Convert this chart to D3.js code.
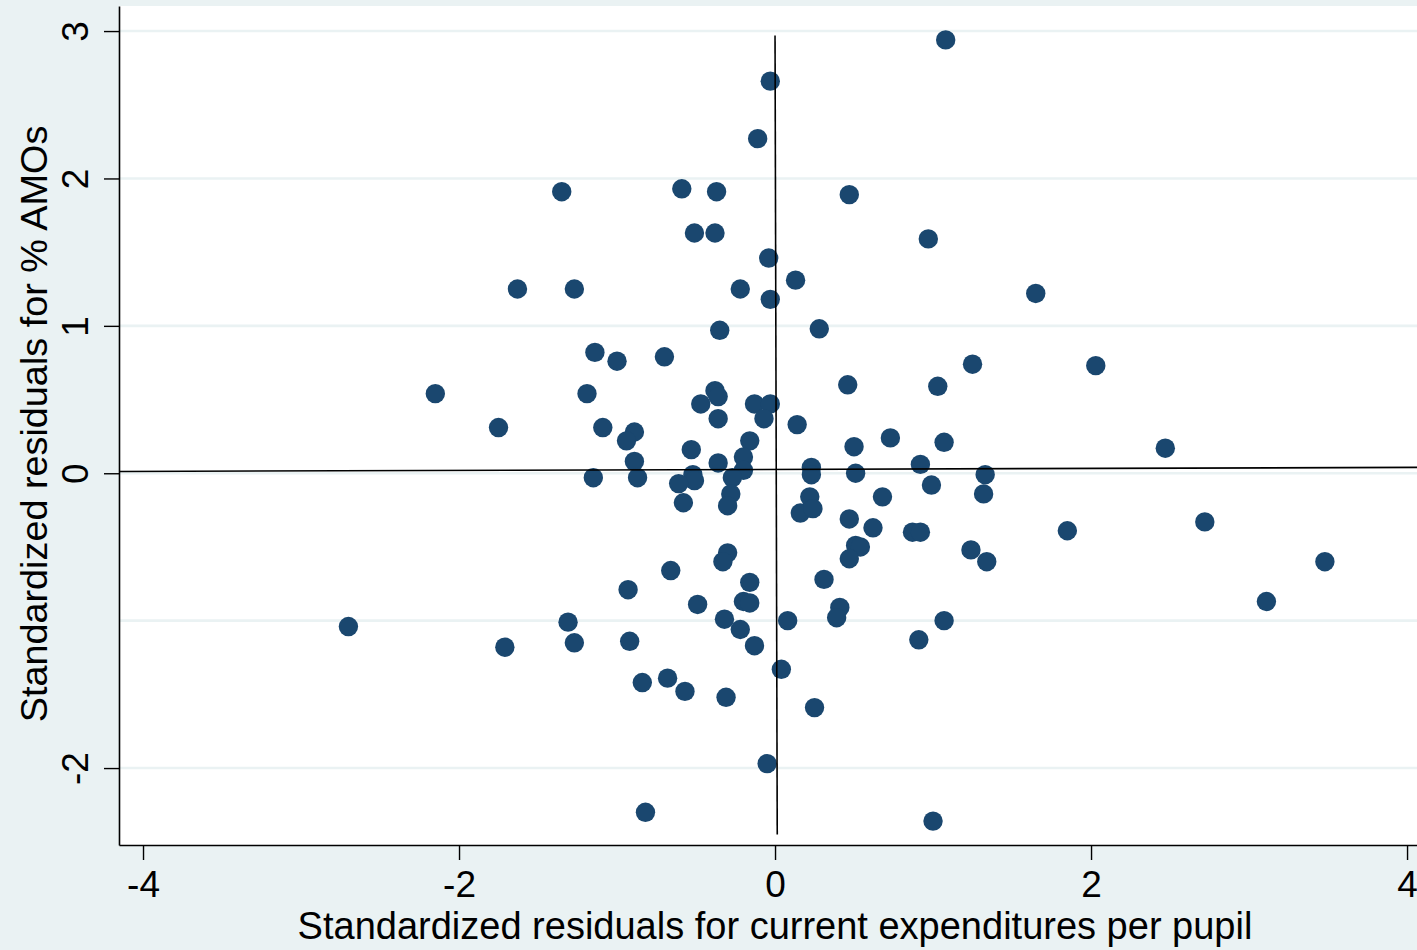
<!DOCTYPE html>
<html>
<head>
<meta charset="utf-8">
<script src="https://cdn.jsdelivr.net/npm/d3@7"></script>
<style>
  body { margin: 0; background: #eaf2f3; }
  text { font-family: "Liberation Sans", Arial, sans-serif; fill: #000; }
</style>
</head>
<body>
<script>
// 标准化残差（横轴：每生经常性支出；纵轴：% AMOs）
const xResid = [
  1.08, -0.03, -0.11, -1.35, -0.59, -0.37, 0.47, -0.51, -0.38, 0.97,
  -0.04, -1.63, -1.27, -0.22, 0.13, -0.03, 1.65, -0.35, 0.28, -1.14,
  -1.00, -0.70, 1.25, 2.03, -2.15, -1.19, 0.46, 1.03, -0.38, -0.36,
  -0.47, -0.13, -0.03, -0.36, -0.07, 0.14, -1.75, -1.09, -0.89, -0.94,
  -0.16, 0.73, 1.07, 0.50, -0.53, 2.47, -0.89, -0.36, -0.20, 0.92,
  0.23, -0.52, -0.51, -0.87, -1.15, -0.20, 0.23, 0.51, 1.33, -0.61,
  -0.27, 0.99, -0.28, 0.22, 0.68, 1.32, -0.58, -0.30, 0.16, 0.24,
  0.47, 2.72, 0.62, 0.87, 0.92, 1.85, 0.51, 0.54, 1.24, -0.30,
  0.47, -0.33, 1.34, 3.48, -0.66, 0.31, -0.16, -0.93, -0.49, -0.20,
  -0.16, 0.41, 3.11, 0.39, -0.32, 0.08, 1.07, -2.70, -1.31, -0.22,
  -0.92, -1.27, 0.91, -1.71, -0.13, 0.04, -0.68, -0.84, -0.57, -0.31,
  0.25, -0.05, -0.82, 1.00
];
const yResid = [
  2.94, 2.66, 2.27, 1.91, 1.93, 1.91, 1.89, 1.63, 1.63, 1.59,
  1.46, 1.25, 1.25, 1.25, 1.31, 1.18, 1.22, 0.97, 0.98, 0.82,
  0.76, 0.79, 0.74, 0.73, 0.54, 0.54, 0.60, 0.59, 0.56, 0.52,
  0.47, 0.47, 0.47, 0.37, 0.37, 0.33, 0.31, 0.31, 0.28, 0.22,
  0.22, 0.24, 0.21, 0.18, 0.16, 0.17, 0.08, 0.07, 0.11, 0.06,
  0.04, -0.01, -0.05, -0.03, -0.03, 0.02, -0.01, 0.00, -0.01, -0.07,
  -0.03, -0.08, -0.14, -0.16, -0.16, -0.14, -0.20, -0.22, -0.27, -0.24,
  -0.31, -0.33, -0.37, -0.40, -0.40, -0.39, -0.49, -0.50, -0.52, -0.54,
  -0.58, -0.60, -0.60, -0.60, -0.66, -0.72, -0.74, -0.79, -0.89, -0.87,
  -0.88, -0.91, -0.87, -0.98, -0.99, -1.00, -1.00, -1.04, -1.01, -1.06,
  -1.14, -1.15, -1.13, -1.18, -1.17, -1.33, -1.39, -1.42, -1.48, -1.52,
  -1.59, -1.97, -2.30, -2.36
];
// 刻度
const xTicks = [-4, -2, 0, 2, 4];
const yGrid = [-2, -1, 0, 1, 2, 3];
const yTicks = [-2, 0, 1, 2, 3];
// 参考线（两端点）
const hLine = [[-4.15, 0.012], [4.07, 0.04]];
const vLine = [[0.0, 2.97], [0.014, -2.45]];

const xTitle = 'Standardized residuals for current expenditures per pupil';
const yTitle = 'Standardized residuals for % AMOs';

// 画布
const width = 1417;
const height = 950;
const margin = {left: 119, top: 6, right: 0, bottom: 105};
const points = xResid.map((x, i) => [x, yResid[i]]);

const x = d3.scaleLinear().domain([-4.152, 4.063]).range([margin.left, width - margin.right]);
const y = d3.scaleLinear().domain([-2.522, 3.17]).range([height - margin.bottom, margin.top]);

const svg = d3.select('body')
    .append('svg')
    .attr('width', width)
    .attr('height', height);

svg.append('rect')
    .attr('width', width)
    .attr('height', height)
    .attr('fill', '#eaf2f3');

// 绘图区
svg.append('rect')
    .attr('x', margin.left)
    .attr('y', margin.top)
    .attr('width', width - margin.left - margin.right)
    .attr('height', height - margin.top - margin.bottom)
    .attr('fill', 'white');

// 水平网格线
svg.append('g')
    .selectAll('line')
    .data(yGrid).enter()
    .append('line')
    .attr('x1', margin.left)
    .attr('x2', width - margin.right)
    .attr('y1', d => y(d))
    .attr('y2', d => y(d))
    .attr('stroke', '#eaf2f3')
    .attr('stroke-width', 2.6);

// 散点
svg.append('g')
    .selectAll('circle')
    .data(points).enter()
    .append('circle')
    .attr('cx', d => x(d[0]))
    .attr('cy', d => y(d[1]))
    .attr('r', 9.7)
    .attr('fill', '#1a476f');

// 参考线
const line = d3.line().x(d => x(d[0])).y(d => y(d[1]));
svg.append('path').attr('d', line(hLine)).attr('stroke', 'black').attr('stroke-width', 1.6).attr('fill', 'none');
svg.append('path').attr('d', line(vLine)).attr('stroke', 'black').attr('stroke-width', 1.6).attr('fill', 'none');

// 坐标轴（用普通连字符作负号）
const fmt = d => String(d);
const xAxis = svg.append('g')
    .attr('transform', `translate(0,${height - margin.bottom})`)
    .call(d3.axisBottom(x).tickValues(xTicks).tickSize(15).tickSizeOuter(0).tickFormat(fmt));
const yAxis = svg.append('g')
    .attr('transform', `translate(${margin.left},0)`)
    .call(d3.axisLeft(y).tickValues(yTicks).tickSize(15).tickSizeOuter(0).tickFormat(fmt));

[xAxis, yAxis].forEach(g => {
    g.select('.domain').attr('stroke', 'black').attr('stroke-width', 1.6);
    g.selectAll('.tick line').attr('stroke', 'black').attr('stroke-width', 1.4);
    g.selectAll('text').attr('font-size', 37).attr('font-family', '"Liberation Sans", Arial, sans-serif');
});
xAxis.selectAll('.tick text').attr('dy', null).attr('y', 52);
yAxis.selectAll('.tick text')
    .attr('x', null).attr('dy', null)
    .attr('text-anchor', 'middle')
    .attr('transform', 'translate(-31,0) rotate(-90)');

// 轴标题
svg.append('text')
    .attr('x', 775)
    .attr('y', 939)
    .attr('text-anchor', 'middle')
    .attr('font-size', 38)
    .text(xTitle);
svg.append('text')
    .attr('transform', 'translate(47,424) rotate(-90)')
    .attr('text-anchor', 'middle')
    .attr('font-size', 37.8)
    .text(yTitle);
</script>
</body>
</html>
